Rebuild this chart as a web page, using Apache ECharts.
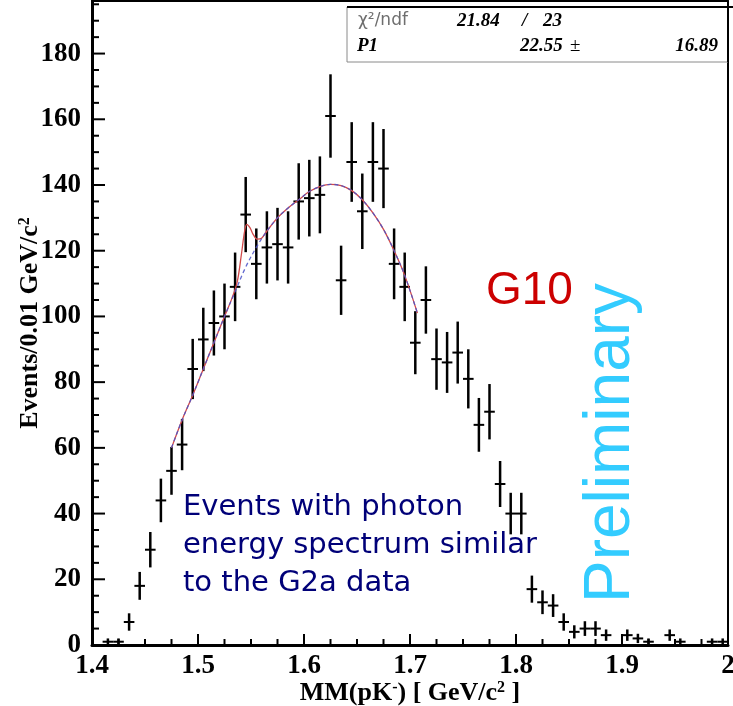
<!DOCTYPE html>
<html>
<head>
<meta charset="utf-8">
<script src="https://cdn.jsdelivr.net/npm/echarts@6/dist/echarts.min.js"></script>
<style>
  html, body { margin: 0; padding: 0; background: #fff; }
  #chart { width: 733px; height: 706px; }
</style>
</head>
<body>
<div id="chart"></div>
<script>
// Missing-mass histogram MM(pK-), 0.01 GeV/c^2 bins from 1.40 to 2.00
const binCenters = [
  1.405, 1.415, 1.425, 1.435, 1.445, 1.455, 1.465, 1.475, 1.485, 1.495,
  1.505, 1.515, 1.525, 1.535, 1.545, 1.555, 1.565, 1.575, 1.585, 1.595,
  1.605, 1.615, 1.625, 1.635, 1.645, 1.655, 1.665, 1.675, 1.685, 1.695,
  1.705, 1.715, 1.725, 1.735, 1.745, 1.755, 1.765, 1.775, 1.785, 1.795,
  1.805, 1.815, 1.825, 1.835, 1.845, 1.855, 1.865, 1.875, 1.885, 1.895,
  1.905, 1.915, 1.925, 1.935, 1.945, 1.955, 1.965, 1.975, 1.985, 1.995
];
const counts = [
  0, 1, 1, 7, 18, 29, 44, 53, 61, 84,
  93, 98, 100, 109, 131, 116, 121, 122, 121, 135,
  136, 137, 161, 111, 147, 132, 147, 145, 116, 109,
  92, 105, 87, 86, 89, 81, 67, 71, 49, 40,
  40, 17, 13, 12, 7, 4, 5, 5, 3, 0,
  3, 2, 1, 0, 3, 1, 0, 0, 1, 1
];

// Fitted curve (signal + background), sampled along the fit range
const fitX = [1.475, 1.485, 1.495, 1.505, 1.515, 1.525, 1.532, 1.537, 1.541, 1.544,
              1.546, 1.549, 1.552, 1.556, 1.560, 1.565, 1.575, 1.585, 1.595, 1.605,
              1.615, 1.625, 1.635, 1.645, 1.655, 1.665, 1.675, 1.685, 1.695, 1.707];
const fitY = [60, 68.5, 76, 84, 92, 100, 105.5, 110.5, 119, 126,
              128, 127, 125, 123.5, 123.8, 126, 130, 133, 135.5, 138,
              139.5, 140.2, 139.8, 138.3, 135.5, 131.5, 126.5, 120, 112.5, 101];

// Background-only component of the fit
const bkgX = [1.475, 1.485, 1.495, 1.505, 1.515, 1.525, 1.535, 1.545, 1.555, 1.565,
              1.575, 1.585, 1.595, 1.605, 1.615, 1.625, 1.635, 1.645, 1.655, 1.665,
              1.675, 1.685, 1.695, 1.707];
const bkgY = [60, 68.5, 76, 84, 92, 100, 107.5, 115, 121, 126,
              130, 133, 135.5, 138, 139.5, 140.2, 139.8, 138.3, 135.5, 131.5,
              126.5, 120, 112.5, 101];

// Axis ranges and major tick values
const xMin = 1.4, xMax = 2.0, xStep = 0.1;
const yMin = 0, yMax = 196, yStep = 20;
const xMajorTicks = [1.4, 1.5, 1.6, 1.7, 1.8, 1.9, 2.0];
const yMajorTicks = [0, 20, 40, 60, 80, 100, 120, 140, 160, 180];
const minorDivisions = 4;

const binHalfWidth = 0.005;
const serif = '"Liberation Serif", "Times New Roman", serif';

const points = binCenters
  .map((x, i) => [x, counts[i], Math.sqrt(counts[i])])
  .filter(d => d[1] > 0);

// tick marks (value, isMajor) — minor ticks subdivide each major interval
function tickList(majors, step, upper) {
  const out = [];
  majors.forEach(m => {
    out.push([m, 1]);
    for (let k = 1; k < minorDivisions; k++) {
      const v = m + step * k / minorDivisions;
      if (v < upper) out.push([+v.toFixed(4), 0]);
    }
  });
  return out;
}
const xTickData = tickList(xMajorTicks, xStep, xMax).map(t => [t[0], yMin, t[1]]);
const yTickData = tickList(yMajorTicks, yStep, yMax).map(t => [xMin, t[0], t[1]]);

const chart = echarts.init(document.getElementById('chart'), null, { renderer: 'canvas' });

function supStyle() {
  return { fontSize: 16, fontWeight: 'bold', fontFamily: serif, color: '#000', verticalAlign: 'top' };
}
function frameAxis(position, min, max) {
  return {
    type: 'value', position: position, min: min, max: max,
    axisLine: { show: true, onZero: false, lineStyle: { color: '#000', width: 2 } },
    axisTick: { show: false }, minorTick: { show: false },
    axisLabel: { show: false }, splitLine: { show: false }
  };
}

chart.setOption({
  animation: false,
  backgroundColor: '#fff',
  grid: { left: 92, right: 5, top: 1, bottom: 61, outerBoundsMode: 'none' },
  xAxis: [{
    type: 'value', position: 'bottom', min: xMin, max: xMax, interval: xStep,
    name: 'MM(pK{s|-}) [ GeV/c{s|2} ]',
    nameLocation: 'middle', nameGap: 35, nameMoveOverlap: false,
    nameTextStyle: { fontFamily: serif, fontWeight: 'bold', fontSize: 26, color: '#000', rich: { s: supStyle() } },
    axisLine: { show: true, onZero: false, lineStyle: { color: '#000', width: 3 } },
    axisTick: { show: false },
    minorTick: { show: false },
    splitLine: { show: false },
    axisLabel: {
      show: true, margin: 8, color: '#000', fontFamily: serif, fontWeight: 'bold', fontSize: 27,
      formatter: v => String(+v.toFixed(1))
    }
  }, frameAxis('top', xMin, xMax)],
  yAxis: [{
    type: 'value', position: 'left', min: yMin, max: yMax, interval: yStep,
    name: 'Events/0.01 GeV/c{s|2}',
    nameLocation: 'middle', nameGap: 49, nameMoveOverlap: false,
    nameTextStyle: { fontFamily: serif, fontWeight: 'bold', fontSize: 26, color: '#000', rich: { s: supStyle() } },
    axisLine: { show: true, onZero: false, lineStyle: { color: '#000', width: 3 } },
    axisTick: { show: false },
    minorTick: { show: false },
    splitLine: { show: false },
    axisLabel: {
      show: true, margin: 11, color: '#000', fontFamily: serif, fontWeight: 'bold', fontSize: 27,
      formatter: v => (v % 20 === 0 ? String(v) : '')
    }
  }, frameAxis('right', yMin, yMax)],
  series: [
    {
      // inward ticks along the bottom axis
      type: 'custom',
      name: 'xTicks',
      xAxisIndex: 0, yAxisIndex: 0,
      data: xTickData,
      clip: false, silent: true, z: 6,
      renderItem: function (params, api) {
        const p = api.coord([api.value(0), api.value(1)]);
        const len = api.value(2) ? 11 : 6;
        return { type: 'line', shape: { x1: p[0], y1: p[1], x2: p[0], y2: p[1] - len }, style: { stroke: '#000', lineWidth: 2 } };
      }
    },
    {
      // inward ticks along the left axis
      type: 'custom',
      name: 'yTicks',
      xAxisIndex: 0, yAxisIndex: 0,
      data: yTickData,
      clip: false, silent: true, z: 6,
      renderItem: function (params, api) {
        const p = api.coord([api.value(0), api.value(1)]);
        const len = api.value(2) ? 13 : 7;
        return { type: 'line', shape: { x1: p[0], y1: p[1], x2: p[0] + len, y2: p[1] }, style: { stroke: '#000', lineWidth: 2 } };
      }
    },
    {
      type: 'custom',
      name: 'data',
      xAxisIndex: 0, yAxisIndex: 0,
      data: points,
      z: 3,
      renderItem: function (params, api) {
        const x = api.value(0), y = api.value(1), e = api.value(2);
        const c = api.coord([x, y]);
        const lo = api.coord([x, Math.max(0, y - e)]);
        const hi = api.coord([x, y + e]);
        const l = api.coord([x - binHalfWidth, y]);
        const r = api.coord([x + binHalfWidth, y]);
        return {
          type: 'group',
          children: [
            { type: 'line', shape: { x1: c[0], y1: lo[1], x2: c[0], y2: hi[1] }, style: { stroke: '#000', lineWidth: 2.5 } },
            { type: 'line', shape: { x1: l[0], y1: c[1], x2: r[0], y2: c[1] }, style: { stroke: '#000', lineWidth: 2 } }
          ]
        };
      }
    },
    {
      type: 'line',
      name: 'fit',
      xAxisIndex: 0, yAxisIndex: 0,
      data: fitX.map((x, i) => [x, fitY[i]]),
      smooth: 0.35,
      showSymbol: false,
      symbol: 'none',
      z: 4,
      lineStyle: { color: '#d24a4a', width: 1.3 }
    },
    {
      type: 'line',
      name: 'background',
      xAxisIndex: 0, yAxisIndex: 0,
      data: bkgX.map((x, i) => [x, bkgY[i]]),
      smooth: 0.35,
      showSymbol: false,
      symbol: 'none',
      z: 5,
      lineStyle: { color: '#4a52c8', width: 1.3, type: [4, 3], opacity: 0.85 }
    }
  ],
  graphic: [
    // statistics box
    { type: 'rect', z: 10, shape: { x: 347, y: 7, width: 381, height: 55 }, style: { fill: '#fff', stroke: '#8a8a8a', lineWidth: 1 } },
    { type: 'line', z: 11, shape: { x1: 347, y1: 7, x2: 733, y2: 7 }, style: { stroke: '#000', lineWidth: 2 } },
    { type: 'line', z: 11, shape: { x1: 728, y1: 7, x2: 728, y2: 62 }, style: { stroke: '#000', lineWidth: 2 } },
    { type: 'text', z: 12, x: 358, y: 21, style: { text: 'χ²/ndf', font: '17px "DejaVu Sans"', fill: '#6e6e6e', textAlign: 'left', textVerticalAlign: 'middle' } },
    { type: 'text', z: 12, x: 457, y: 21, style: { text: '21.84', font: 'italic bold 19px "Liberation Serif"', fill: '#000', textAlign: 'left', textVerticalAlign: 'middle' } },
    { type: 'text', z: 12, x: 522, y: 21, style: { text: '/', font: 'italic bold 19px "Liberation Serif"', fill: '#000', textAlign: 'left', textVerticalAlign: 'middle' } },
    { type: 'text', z: 12, x: 543, y: 21, style: { text: '23', font: 'italic bold 19px "Liberation Serif"', fill: '#000', textAlign: 'left', textVerticalAlign: 'middle' } },
    { type: 'text', z: 12, x: 357, y: 46, style: { text: 'P1', font: 'italic bold 19px "Liberation Serif"', fill: '#000', textAlign: 'left', textVerticalAlign: 'middle' } },
    { type: 'text', z: 12, x: 520, y: 46, style: { text: '22.55', font: 'italic bold 19px "Liberation Serif"', fill: '#000', textAlign: 'left', textVerticalAlign: 'middle' } },
    { type: 'text', z: 12, x: 570, y: 46, style: { text: '±', font: '19px "Liberation Serif"', fill: '#000', textAlign: 'left', textVerticalAlign: 'middle' } },
    { type: 'text', z: 12, x: 718, y: 46, style: { text: '16.89', font: 'italic bold 19px "Liberation Serif"', fill: '#000', textAlign: 'right', textVerticalAlign: 'middle' } },
    // annotations
    { type: 'text', z: 12, x: 486, y: 291, style: { text: 'G10', font: '46px "Liberation Sans"', fill: '#cc0000', textAlign: 'left', textVerticalAlign: 'middle' } },
    { type: 'text', z: 12, x: 611, y: 603, rotation: Math.PI / 2, style: { text: 'Preliminary', font: '64px "Liberation Sans"', fill: '#33ccff', textAlign: 'left', textVerticalAlign: 'middle' } },
    { type: 'text', z: 12, x: 183, y: 488, style: { text: 'Events with photon\nenergy spectrum similar\nto the G2a data', font: '29px "DejaVu Sans"', lineHeight: 38, fill: '#000078', textAlign: 'left', textVerticalAlign: 'top' } }
  ]
});
</script>
</body>
</html>
